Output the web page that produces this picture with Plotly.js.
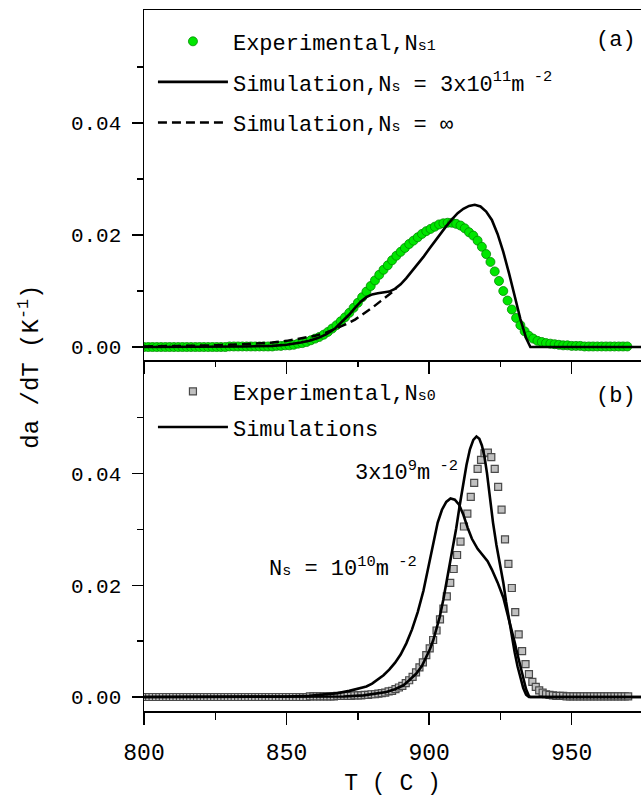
<!DOCTYPE html>
<html>
<head>
<meta charset="utf-8">
<script src="https://cdn.plot.ly/plotly-3.0.1.min.js"></script>
<style>html,body{margin:0;padding:0;background:#fff;}#chart{width:641px;height:797px;}</style>
</head>
<body>
<div id="chart"></div>
<script>
// ---------- Panel (a) ----------
const expA_T = [800,801.5,803,804.5,806,807.5,809,810.5,812,813.5,815,816.5,818,819.5,821,822.5,824,825.5,827,828.5,830,831.5,833,834.5,836,837.5,839,840.5,842,843.5,845,846.5,848,849.5,851,852.5,854,855.5,857,858.5,860,861.5,863,864.5,866,867.5,869,870.5,872,873.5,875,876.5,878,879.5,881,882.5,884,885.5,887,888.5,890,891.5,893,894.5,896,897.5,899,900.5,902,903.5,905,906.5,908,909.5,911,912.5,914,915.5,917,918.5,920,921.5,923,924.5,926,927.5,929,930.5,932,933.5,935,936.5,938,939.5,941,942.5,944,945.5,947,948.5,950,951.5,953,954.5,956,957.5,959,960.5,962,963.5,965,966.5,968,969.5];
const expA_V = [0,0,0,0,0,0,0,0,0,0,0,0,0,0,0,0,0,0,0,0,0.0001,0.0001,0.0001,0.0001,0.0001,0.0001,0.0001,0.0001,0.0001,0.0001,0.0001,0.0002,0.0002,0.0003,0.0003,0.0004,0.0006,0.0007,0.0009,0.0012,0.0015,0.0018,0.0022,0.0027,0.0033,0.0039,0.0046,0.0053,0.0061,0.0070,0.0079,0.0089,0.0099,0.0109,0.0119,0.0129,0.0138,0.0146,0.0155,0.0163,0.0170,0.0177,0.0184,0.0190,0.0196,0.0202,0.0207,0.0211,0.0215,0.0219,0.0221,0.0222,0.0222,0.0220,0.0217,0.0212,0.0205,0.0199,0.0190,0.0179,0.0166,0.0152,0.0135,0.0118,0.0100,0.0083,0.0067,0.0052,0.0039,0.0028,0.0020,0.0015,0.0011,0.0009,0.0007,0.0006,0.0005,0.0004,0.0003,0.0003,0.0002,0.0002,0.0002,0.0001,0.0001,0.0001,0.0001,0.0001,0.0001,0.0001,0.0001,0.0001,0.0001,0.0001];

const simA1_T = [800,820,835,845,850,855,858,861,864,867,870,872,874,876,878,880,882,884,886,888,890,892,894,896,898,900,902,904,906,908,910,912,914,916,918,920,922,924,926,928,930,932,934,935.5,950,975];
const simA1_V = [0,0,0.0001,0.0002,0.0004,0.0008,0.0011,0.0016,0.0023,0.0033,0.0047,0.0058,0.0070,0.0081,0.0089,0.0094,0.0096,0.0097,0.0099,0.0104,0.0112,0.0123,0.0135,0.0148,0.0161,0.0175,0.0189,0.0203,0.0216,0.0228,0.0239,0.0247,0.0252,0.0254,0.0251,0.0242,0.0227,0.0202,0.0170,0.0132,0.0090,0.0050,0.0016,0,0,0];

const simAinf_T = [800,815,825,835,840,845,850,855,860,864,868,871,874,877,880,883,886,888.5];
const simAinf_V = [0.0001,0.0002,0.0003,0.0005,0.0006,0.0008,0.0011,0.0015,0.0020,0.0026,0.0034,0.0041,0.0049,0.0059,0.0070,0.0082,0.0094,0.0104];

// ---------- Panel (b) ----------
const expB_T = [800.6,801.8,803,804.2,805.4,806.6,807.8,809,810.2,811.4,812.6,813.8,815,816.2,817.4,818.6,819.8,821,822.2,823.4,824.6,825.8,827,828.2,829.4,830.6,831.8,833,834.2,835.4,836.6,837.8,839,840.2,841.4,842.6,843.8,845,846.2,847.4,848.6,849.8,851,852.2,853.4,854.6,855.8,857,858.2,859.4,860.6,861.8,863,864.2,865.4,866.6,867.8,869,870.2,871.4,872.6,873.8,875,876.2,877.4,878.6,879.8,881,882.2,883.4,884.6,885.8,887,888.2,889.4,890.6,891.8,893,894.2,895.4,896.6,897.8,899,900.2,901.4,902.6,903.8,905,906.2,907.4,908.6,909.8,911,912.2,913.4,914.6,915.8,917,918.2,919.4,920.6,921.8,923,924.2,925.4,926.6,927.8,929,930.2,931.4,932.6,933.8,935,936.2,937.4,938.6,939.8,941,942.2,943.4,944.6,945.8,947,948.2,949.4,950.6,951.8,953,954.2,955.4,956.6,957.8,959,960.2,961.4,962.6,963.8,965,966.2,967.4,968.6,969.8];
const expB_V = [0,0,0,0,0,0,0,0,0,0,0,0,0,0,0,0,0,0,0,0,0,0,0,0,0,0,0,0,0,0,0,0,0,0,0,0,0,0,0,0,0,0,0,0,0,0,0,0,0.0001,0.0001,0.0001,0.0001,0.0001,0.0001,0.0001,0.0001,0.0002,0.0002,0.0002,0.0002,0.0002,0.0003,0.0003,0.0003,0.0004,0.0004,0.0005,0.0005,0.0006,0.0007,0.0008,0.0010,0.0011,0.0014,0.0017,0.0020,0.0025,0.0030,0.0036,0.0044,0.0053,0.0062,0.0075,0.0087,0.0102,0.0119,0.0139,0.0158,0.0180,0.0204,0.0229,0.0254,0.0278,0.0305,0.0328,0.0358,0.0383,0.0408,0.0424,0.0436,0.0437,0.0429,0.0408,0.0376,0.0335,0.0282,0.0238,0.0195,0.0152,0.0112,0.0082,0.0059,0.0041,0.0027,0.0018,0.0012,0.0008,0.0005,0.0004,0.0003,0.0002,0.0002,0.0002,0.0001,0.0001,0.0001,0.0001,0.0001,0.0001,0.0001,0.0001,0.0001,0.0001,0.0001,0.0001,0.0001,0.0001,0.0001,0.0001,0.0001,0.0001,0.0001];

const simB10_T = [800,840,850,858,863,868,872,875,878,880,882,884,886,888,890,892,894,896,898,900,901.5,903,904.5,906,907.5,909,910.5,912,913.5,915,917,919,920.5,922,924,926,928,930,931,932,933,934,935,935.5,975];
const simB10_V = [0,0,0.0001,0.0002,0.0004,0.0007,0.0011,0.0015,0.0019,0.0024,0.0031,0.0039,0.0049,0.0061,0.0076,0.0096,0.0121,0.0152,0.0190,0.0238,0.0278,0.0312,0.0335,0.0349,0.0355,0.0353,0.0344,0.0326,0.0303,0.0283,0.0265,0.0252,0.0243,0.0228,0.0205,0.0178,0.0140,0.0098,0.0076,0.0054,0.0033,0.0014,0.0002,0,0];

const simB3_T = [800,860,870,877,882,885,888,891,893,895.5,897.5,899,900.3,901.4,902.5,903.7,905,906.5,908,909.5,910.7,911.9,913.1,914.3,915.5,916.6,917.6,918.5,919.4,920.3,921.2,922.4,923.6,925,926,927,928,929,930,931,932,933,934,935,975];
const simB3_V = [0,0,0.0001,0.0003,0.0006,0.0009,0.0014,0.0021,0.0030,0.0042,0.0056,0.0072,0.0086,0.0101,0.0120,0.0143,0.0175,0.0215,0.0258,0.0302,0.0342,0.0380,0.0415,0.0443,0.0460,0.0466,0.0462,0.0450,0.0430,0.0400,0.0360,0.0312,0.0272,0.0235,0.0205,0.0170,0.0138,0.0108,0.0080,0.0055,0.0034,0.0016,0.0004,0,0];

const FONT = 'Liberation Mono, Courier New, monospace';
const SM = s => '<span style="font-size:15px">' + s + '</span>';

const traces = [
  {x: expA_T, y: expA_V, xaxis: 'x', yaxis: 'y', type: 'scatter', mode: 'markers',
   name: 'Experimental,N' + SM('s1'), legend: 'legend', legendgroup: 'a1',
   marker: {symbol: 'circle', size: 9, color: '#00e600', line: {color: '#008a00', width: 0.8}}},
  {x: simA1_T, y: simA1_V, xaxis: 'x', yaxis: 'y', type: 'scatter', mode: 'lines',
   name: 'Simulation,N' + SM('s') + ' = 3x10<sup>11</sup>m<sup> -2</sup>', legend: 'legend', legendgroup: 'a2',
   line: {color: '#000', width: 2.6}},
  {x: simAinf_T, y: simAinf_V, xaxis: 'x', yaxis: 'y', type: 'scatter', mode: 'lines',
   name: 'Simulation,N' + SM('s') + ' = ∞', legend: 'legend', legendgroup: 'a3',
   line: {color: '#000', width: 2.5, dash: '9px,5px'}},
  {x: expB_T, y: expB_V, xaxis: 'x2', yaxis: 'y2', type: 'scatter', mode: 'markers',
   name: 'Experimental,N' + SM('s0'), legend: 'legend2', legendgroup: 'b1',
   marker: {symbol: 'square', size: 7, color: '#c0c0c0', line: {color: '#4a4a4a', width: 1.2}}},
  {x: simB10_T, y: simB10_V, xaxis: 'x2', yaxis: 'y2', type: 'scatter', mode: 'lines',
   name: 'Simulations', legend: 'legend2', legendgroup: 'b2',
   line: {color: '#000', width: 2.6}},
  {x: simB3_T, y: simB3_V, xaxis: 'x2', yaxis: 'y2', type: 'scatter', mode: 'lines',
   name: 'Simulations', legend: 'legend2', legendgroup: 'b2', showlegend: false,
   line: {color: '#000', width: 2.6}}
];

const xr = [800, 974.3];
const yaxisCommon = {
  showline: true, linecolor: '#000', linewidth: 1.5, ticks: 'outside', ticklen: 11, tickwidth: 1.3,
  tickcolor: '#000', tickvals: [0, 0.02, 0.04], ticktext: ['0.00', '0.02', '0.04'],
  minor: {tickvals: [0.01, 0.03, 0.05], ticks: 'outside', ticklen: 6, tickwidth: 1.3, tickcolor: '#000'},
  showgrid: false, zeroline: false, tickfont: {family: FONT, size: 21, color: '#000'},
  ticklabelstandoff: 6
};

const layout = {
  width: 641, height: 797,
  margin: {l: 144, r: 0, t: 10, b: 86},
  paper_bgcolor: '#fff', plot_bgcolor: '#fff',
  font: {family: FONT, color: '#000'},
  xaxis: {domain: [0, 1], anchor: 'y', range: xr, showline: true, mirror: true, linecolor: '#000', linewidth: 1.5,
    ticks: 'outside', ticklen: 12, tickwidth: 1.3, tickcolor: '#000', dtick: 50, tick0: 800,
    minor: {dtick: 25, ticks: 'outside', ticklen: 5, tickwidth: 1.3, tickcolor: '#000'},
    showticklabels: false, showgrid: false, zeroline: false},
  yaxis: Object.assign({}, yaxisCommon, {domain: [0.5007, 1], anchor: 'x', range: [-0.00232, 0.0602]}),
  xaxis2: {domain: [0, 1], anchor: 'y2', range: xr, showline: true, linecolor: '#000', linewidth: 1.5,
    ticks: 'outside', ticklen: 12, tickwidth: 1.3, tickcolor: '#000', dtick: 50, tick0: 800,
    minor: {dtick: 25, ticks: 'outside', ticklen: 7, tickwidth: 1.3, tickcolor: '#000'},
    showgrid: false, zeroline: false, tickfont: {family: FONT, size: 23, color: '#000'},
    ticklabelstandoff: 8,
    title: {text: 'T ( C )', font: {family: FONT, size: 23, color: '#000'}, standoff: 10}},
  yaxis2: Object.assign({}, yaxisCommon, {domain: [0, 0.4993], anchor: 'x2', range: [-0.0025, 0.0601]}),
  legend: {x: 0.018, y: 0.985, xanchor: 'left', yanchor: 'top', bgcolor: 'rgba(0,0,0,0)', borderwidth: 0,
    font: {family: FONT, size: 22, color: '#000'}, itemwidth: 70, tracegroupgap: 9, traceorder: 'grouped'},
  legend2: {x: 0.018, y: 0.4855, xanchor: 'left', yanchor: 'top', bgcolor: 'rgba(0,0,0,0)', borderwidth: 0,
    font: {family: FONT, size: 22, color: '#000'}, itemwidth: 70, tracegroupgap: 4, traceorder: 'grouped'},
  showlegend: true,
  annotations: [
    {text: 'da /dT (K<sup>-1</sup>)', xref: 'paper', yref: 'paper', x: -0.232, y: 0.4907, textangle: -90,
     showarrow: false, xanchor: 'center', yanchor: 'middle', font: {family: FONT, size: 24, color: '#000'}},
    {text: '(a)', xref: 'x', yref: 'y', x: 965.4, y: 0.0548, showarrow: false, xanchor: 'center', yanchor: 'middle',
     font: {family: FONT, size: 22, color: '#000'}},
    {text: '(b)', xref: 'x2', yref: 'y2', x: 965.4, y: 0.0537, showarrow: false, xanchor: 'center', yanchor: 'middle',
     font: {family: FONT, size: 22, color: '#000'}},
    {text: '3x10<sup>9</sup>m<sup> -2</sup>', xref: 'x2', yref: 'y2', x: 873.2, y: 0.0403, showarrow: false,
     xanchor: 'left', yanchor: 'middle', font: {family: FONT, size: 22, color: '#000'}},
    {text: 'N' + SM('s') + ' = 10<sup>10</sup>m<sup> -2</sup>', xref: 'x2', yref: 'y2', x: 843.1, y: 0.0232, showarrow: false,
     xanchor: 'left', yanchor: 'middle', font: {family: FONT, size: 22, color: '#000'}}
  ]
};

Plotly.newPlot('chart', traces, layout, {displayModeBar: false, staticPlot: true});
</script>
</body>
</html>
